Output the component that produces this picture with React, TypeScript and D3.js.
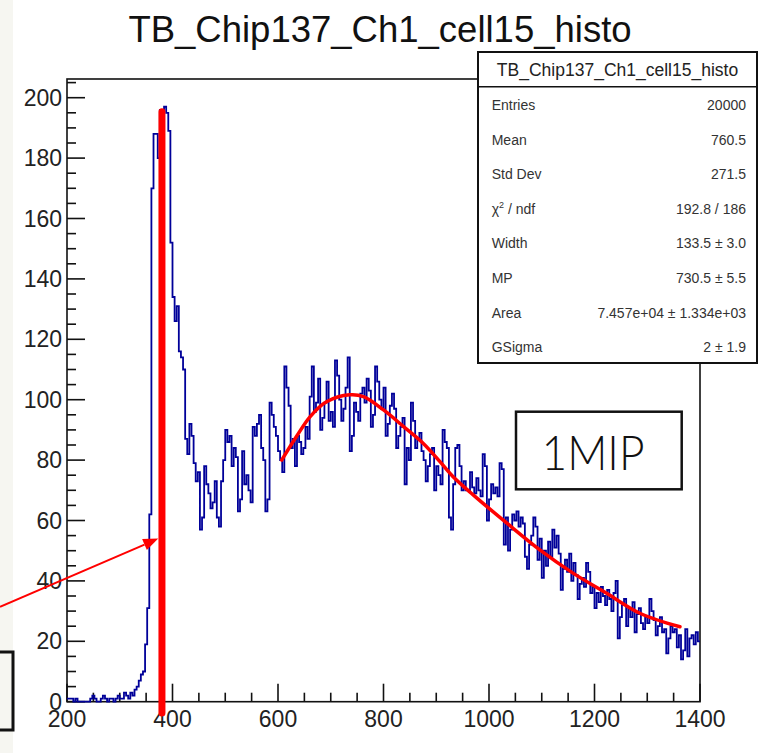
import React from "react";
import * as d3 from "d3";

// ---------- data ----------
const binLow = 200;
const binWidth = 4;
const counts: number[] = [
  1, 1, 1, 0, 1, 0, 0, 0, 0, 0,
  0, 1, 2, 1, 0, 0, 1, 2, 1, 0,
  1, 1, 0, 1, 2, 1, 1, 3, 2, 1,
  3, 2, 4, 5, 7, 9, 10, 19, 31, 62,
  170, 188, 188, 180, 196, 196, 197, 195, 189, 152,
  134, 126, 131, 116, 114, 110, 87, 82, 92, 88,
  79, 73, 76, 57, 61, 78, 72, 69, 64, 66,
  73, 61, 58, 73, 80, 90, 86, 88, 78, 84,
  81, 63, 67, 83, 72, 75, 70, 66, 91, 88,
  92, 95, 84, 80, 63, 67, 99, 95, 91, 88,
  83, 80, 76, 111, 104, 98, 84, 87, 78, 88,
  86, 82, 84, 91, 87, 101, 111, 96, 99, 107,
  90, 94, 99, 106, 93, 96, 91, 113, 108, 100,
  93, 97, 104, 114, 83, 88, 99, 96, 93, 102,
  104, 99, 107, 103, 91, 95, 111, 106, 100, 97,
  104, 88, 92, 98, 102, 97, 84, 88, 91, 94,
  72, 84, 80, 99, 93, 84, 87, 89, 83, 80,
  73, 78, 82, 84, 70, 78, 75, 72, 90, 86,
  84, 61, 57, 72, 84, 85, 78, 70, 73, 70,
  70, 76, 71, 69, 74, 70, 68, 82, 78, 60,
  67, 72, 69, 71, 68, 79, 77, 52, 61, 50,
  57, 62, 60, 63, 58, 61, 59, 48, 44, 52,
  55, 61, 58, 47, 54, 41, 50, 45, 53, 48,
  57, 51, 55, 49, 37, 44, 47, 43, 49, 40,
  46, 42, 34, 39, 41, 38, 46, 43, 36, 38,
  31, 36, 33, 38, 35, 32, 37, 34, 30, 36,
  40, 21, 28, 32, 34, 25, 31, 28, 33, 23,
  29, 31, 26, 24, 28, 26, 34, 30, 27, 22,
  25, 28, 23, 24, 16, 21, 25, 23, 24, 18,
  22, 14, 17, 24, 15, 21, 22, 19, 23, 20,
];

const fitX = [607, 635, 661, 692, 736, 762, 800, 838, 875, 907, 932, 970, 1034, 1097, 1160, 1223, 1286, 1362];
const fitY = [80.0, 87.8, 94.4, 99.3, 101.6, 101.0, 96.6, 91.1, 85.6, 79.5, 74.5, 68.5, 59.1, 50.2, 42.5, 35.9, 29.3, 24.8];

const xTickValues = [200, 400, 600, 800, 1000, 1200, 1400];
const yTickValues = [0, 20, 40, 60, 80, 100, 120, 140, 160, 180, 200];

const title = "TB_Chip137_Ch1_cell15_histo";
const statLabels = ["Entries", "Mean", "Std Dev", "CHI2", "Width", "MP", "Area", "GSigma"];
const statValues = ["20000", "760.5", "271.5", "192.8 / 186", "133.5 \u00b1 3.0", "730.5 \u00b1 5.5", "7.457e+04 \u00b1 1.334e+03", "2 \u00b1 1.9"];

const markerValue = 380; // red vertical line
const arrowFrom = [73, 31.4];
const arrowTo = [373, 54];

// ---------- layout ----------
const W = 758;
const H = 753;
const frame = { left: 67, right: 700, top: 79, bottom: 701.7 };

export default function App() {
  const x = d3.scaleLinear().domain([200, 1400]).range([frame.left, frame.right]);
  const y = d3.scaleLinear().domain([0, 200]).range([frame.bottom, 97.7]);

  const pts: [number, number][] = counts.map((c, i) => [binLow + i * binWidth, c]);
  pts.push([binLow + counts.length * binWidth, counts[counts.length - 1]]);
  const histPath = d3
    .line<[number, number]>()
    .x((d) => x(d[0]))
    .y((d) => y(d[1]))
    .curve(d3.curveStepAfter)(pts) as string;

  const fitPath = d3
    .line<number>()
    .x((d, i) => x(fitX[i]))
    .y((d) => y(d))
    .curve(d3.curveCatmullRom)(fitY) as string;

  const yMinor = d3.range(0, 206, 5);
  const xMinor = d3.range(200, 1401, 50);

  const ax0 = x(arrowFrom[0]), ay0 = y(arrowFrom[1]);
  const ax1 = x(arrowTo[0]), ay1 = y(arrowTo[1]);
  const ang = Math.atan2(ay1 - ay0, ax1 - ax0);
  const hl = 15, hw = 6;
  const bx = ax1 - hl * Math.cos(ang), by = ay1 - hl * Math.sin(ang);
  const head = `M${ax1},${ay1} L${bx + hw * Math.sin(ang)},${by - hw * Math.cos(ang)} L${bx - hw * Math.sin(ang)},${by + hw * Math.cos(ang)} Z`;

  const font = "'Liberation Sans', Arial, Helvetica, sans-serif";

  const stats = { left: 478, right: 757, top: 52, bottom: 363, sep: 86.7 };
  const rowY0 = 105, rowDy = 34.6;

  return (
    <svg width={W} height={H} style={{ position: "absolute", left: 0, top: 0 }} fontFamily={font}>
      <rect x={0} y={0} width={W} height={H} fill="#ffffff" />
      <rect x={0} y={0} width={13} height={H} fill="#f6f6f1" />

      {/* title */}
      <text x={380} y={42} textAnchor="middle" fontSize={36.5} fill="#111">{title}</text>

      {/* frame */}
      <rect x={frame.left} y={frame.top} width={frame.right - frame.left} height={frame.bottom - frame.top} fill="none" stroke="#111" strokeWidth={1.6} />

      {/* y ticks */}
      {yMinor.map((v) => (
        <line key={"ym" + v} x1={frame.left} x2={frame.left + (v % 20 === 0 ? 18 : 9)} y1={y(v)} y2={y(v)} stroke="#111" strokeWidth={1.6} />
      ))}
      {yTickValues.map((v) => (
        <text key={"yl" + v} x={frame.left - 5} y={y(v) + 8} textAnchor="end" fontSize={23} fill="#222">{v}</text>
      ))}
      {/* x ticks */}
      {xMinor.map((v) => (
        <line key={"xm" + v} x1={x(v)} x2={x(v)} y1={frame.bottom} y2={frame.bottom - (v % 200 === 0 ? 18 : 9)} stroke="#111" strokeWidth={1.6} />
      ))}
      {xTickValues.map((v) => (
        <text key={"xl" + v} x={x(v)} y={727} textAnchor="middle" fontSize={23} fill="#222">{v}</text>
      ))}

      {/* histogram */}
      <path d={histPath} fill="none" stroke="#000099" strokeWidth={1.8} />
      {/* fit */}
      <path d={fitPath} fill="none" stroke="#ff0000" strokeWidth={3.5} strokeLinecap="round" />

      {/* marker line */}
      <line x1={x(markerValue)} x2={x(markerValue)} y1={111.7} y2={713} stroke="#ff0000" strokeWidth={7} strokeLinecap="round" />

      {/* arrow */}
      <line x1={ax0} y1={ay0} x2={bx} y2={by} stroke="#ff0000" strokeWidth={2} />
      <path d={head} fill="#ff0000" />

      {/* bottom-left box */}
      <rect x={-20} y={652} width={33} height={78} fill="none" stroke="#111" strokeWidth={3} />

      {/* 1MIP box */}
      <rect x={516} y={411.7} width={165.7} height={77.6} fill="#fff" stroke="#111" strokeWidth={2.5} />
      <text x={593} y={470} textAnchor="middle" fontSize={47} fontFamily="Lato, 'Open Sans', sans-serif" fontWeight={300} textLength={103} lengthAdjust="spacingAndGlyphs" fill="#111">1MIP</text>

      {/* stats box */}
      <rect x={stats.left} y={stats.top} width={stats.right - stats.left} height={stats.bottom - stats.top} fill="#fff" stroke="#111" strokeWidth={2} />
      <line x1={stats.left} x2={stats.right} y1={stats.sep} y2={stats.sep} stroke="#111" strokeWidth={1.6} />
      <text x={(stats.left + stats.right) / 2} y={76} textAnchor="middle" fontSize={17.5} fill="#222">{title}</text>
      {statLabels.map((l, i) => (
        <g key={l}>
          <text x={491.7} y={rowY0 + i * rowDy + 5} fontSize={14} fill="#333">
            {l === "CHI2" ? (
              <>
                {"\u03c7"}
                <tspan dy={-6} fontSize={9}>2</tspan>
                <tspan dy={6}>{" / ndf"}</tspan>
              </>
            ) : (
              l
            )}
          </text>
          <text x={746} y={rowY0 + i * rowDy + 5} textAnchor="end" fontSize={14} fill="#333">{statValues[i]}</text>
        </g>
      ))}
    </svg>
  );
}
